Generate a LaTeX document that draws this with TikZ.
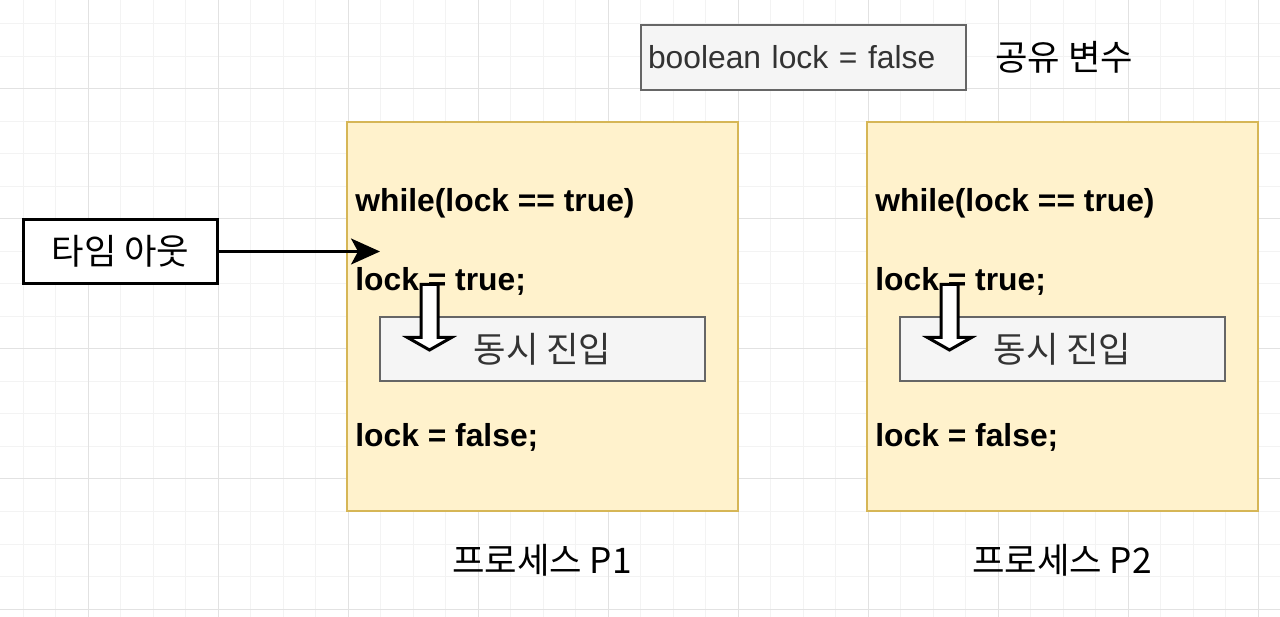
\documentclass[tikz,border=0pt]{standalone}
\usepackage{fontspec}
\setmainfont{Liberation Sans}
\newfontfamily\kr{Noto Sans CJK KR}
\usetikzlibrary{arrows.meta, positioning}
\definecolor{gridlo}{HTML}{F3F3F3}
\definecolor{gridhi}{HTML}{E2E2E2}
\definecolor{procfill}{HTML}{FFF2CC}
\definecolor{procline}{HTML}{D6B656}
\definecolor{boxfill}{HTML}{F5F5F5}
\definecolor{boxline}{HTML}{666666}
\definecolor{boxtext}{HTML}{333333}
\tikzset{
  gridminor/.style={draw=gridlo, line width=0.02cm},
  gridmajor/.style={draw=gridhi, line width=0.02cm},
  procbox/.style={draw=procline, fill=procfill, line width=0.04cm,
    minimum width=7.82cm, minimum height=7.78cm},
  graybox/.style={draw=boxline, fill=boxfill, line width=0.04cm, text=boxtext},
  codeline/.style={anchor=west, inner sep=0pt,
    font=\bfseries\fontsize{18.1}{22}\selectfont},
  krtext/.style={inner sep=0pt, font=\kr\fontsize{20.1}{24}\selectfont},
  hollowarrow/.style={draw=black, fill=white, line width=0.06cm, line join=miter}
}
\begin{document}
\begin{tikzpicture}[x=0.02cm, y=-0.02cm]
	\useasboundingbox (0,0) rectangle (1280,617);
	\fill[white] (0,0) rectangle (1280,617);

	%grille
	\foreach \gx in {0,...,38} \draw[gridminor] (23+32.5*\gx,0) -- (23+32.5*\gx,617);
	\foreach \gy in {0,...,18} \draw[gridminor] (0,24+32.5*\gy) -- (1280,24+32.5*\gy);
	\foreach \gx in {0,...,9} \draw[gridmajor] (88+130*\gx,0) -- (88+130*\gx,617);
	\foreach \gy in {0,...,4} \draw[gridmajor] (0,89+130*\gy) -- (1280,89+130*\gy);

	%variable partagee
	\node[graybox, anchor=west, minimum width=6.5cm, minimum height=1.3cm,
	  text width=6.22cm, inner xsep=0.14cm, align=left,
	  font=\fontsize{18.1}{22}\selectfont] (lockvar) at (640,57.5) {\raisebox{-0.04cm}{boolean lock = false}};
	\node[krtext, anchor=west, right=0.56cm of lockvar] (shared) {공유 변수};

	%processus P1
	\node[procbox] (p1) at (542.5,316.5) {};
	\node[codeline] (wh1) at (355,203) {while(lock == true)};
	\node[codeline] (lk1) at (355,281.5) {lock = true;};
	\node[graybox, krtext, minimum width=6.5cm, minimum height=1.28cm] (cs1) at (542.5,349) {동시 진입};
	\node[codeline] (un1) at (355,437.5) {lock = false;};
	\node[krtext] (name1) at (542,560) {프로세스 P1};
	\coordinate (in1) at (429.5,284.5);
	\draw[hollowarrow] (in1) ++(-8.5,0) -- ++(0,53) -- ++(-13.5,0) -- ++(22,12.5)
	  -- ++(22,-12.5) -- ++(-13.5,0) -- ++(0,-53) -- cycle;

	%processus P2
	\node[procbox] (p2) at (1062.5,316.5) {};
	\node[codeline] (wh2) at (875,203) {while(lock == true)};
	\node[codeline] (lk2) at (875,281.5) {lock = true;};
	\node[graybox, krtext, minimum width=6.5cm, minimum height=1.28cm] (cs2) at (1062.5,349) {동시 진입};
	\node[codeline] (un2) at (875,437.5) {lock = false;};
	\node[krtext] (name2) at (1062,560) {프로세스 P2};
	\coordinate (in2) at (949.5,284.5);
	\draw[hollowarrow] (in2) ++(-8.5,0) -- ++(0,53) -- ++(-13.5,0) -- ++(22,12.5)
	  -- ++(22,-12.5) -- ++(-13.5,0) -- ++(0,-53) -- cycle;

	%time out
	\node[draw, fill=white, line width=0.06cm, krtext, minimum width=3.9cm,
	  minimum height=1.3cm] (timeout) at (120.5,251.5) {타임 아웃};
	\coordinate (hit) at (380,251.5);
	\draw[-{Stealth[length=0.58cm, width=0.52cm, inset=0.14cm]}, line width=0.05cm]
	  (timeout) to (hit);
\end{tikzpicture}
\end{document}
